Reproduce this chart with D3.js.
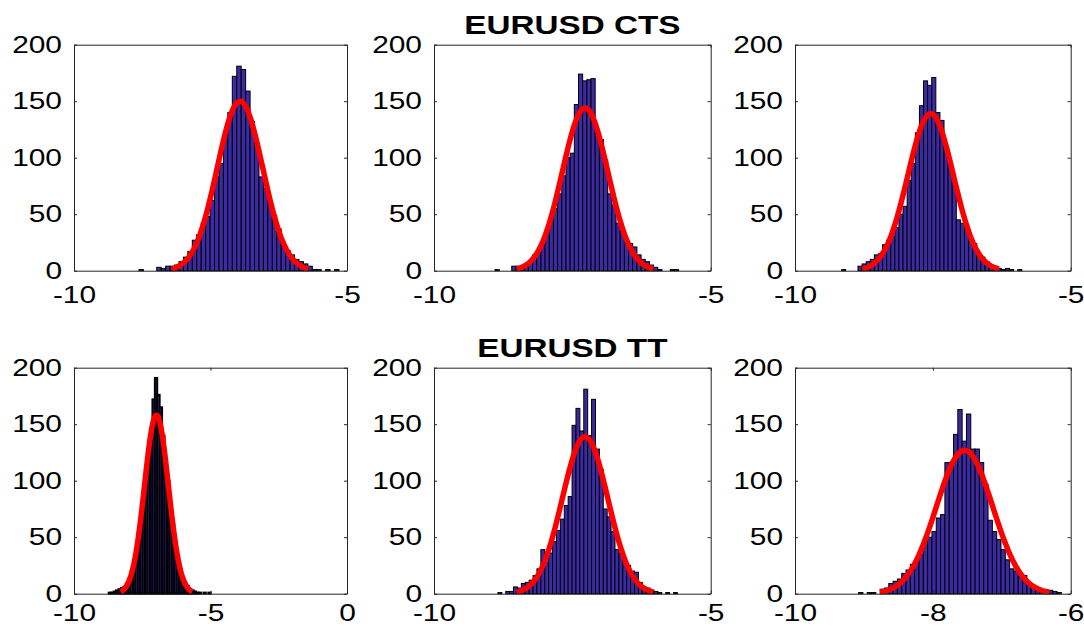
<!DOCTYPE html>
<html><head><meta charset="utf-8">
<script src="https://cdn.jsdelivr.net/npm/d3@7"></script>
<style>
html,body{margin:0;padding:0;background:#fff;}
svg{display:block;}
</style></head><body>
<svg id="chart" width="1084" height="626"></svg>
<script>
// ---------------- data ----------------
const titles = ["EURUSD CTS", "EURUSD TT"];
const yTicks = [0, 50, 100, 150, 200];

// Row 1 (CTS) histograms: counts per bin, first bin edge, bin width
const cts1Counts = [1,0,0,0,3,2,4,4,5,8,12,17,27,32,42,48,62,83,95,123,140,172,181,178,159,132,110,83,73,61,49,37,24,18,14,10,8,6,4,1,1,0,1,0,1];
const cts1Start = -8.81, cts1BinWidth = 0.0814;
const cts1Fit = {mu: -6.96, sigma: 0.417, peak: 150};
const cts1XTicks = [-10, -5];

const cts2Counts = [1,0,0,0,4,4,3,5,8,14,17,26,34,45,55,68,84,100,104,147,174,168,169,170,125,116,98,68,58,42,35,27,24,21,14,10,8,5,3,1,0,0,1,1];
const cts2Start = -8.897, cts2BinWidth = 0.0754;
const cts2Fit = {mu: -7.27, sigma: 0.412, peak: 144};
const cts2XTicks = [-10, -5];

const cts3Counts = [1,0,0,0,4,6,8,10,14,15,23,27,30,38,50,57,80,95,122,146,168,164,171,140,133,110,95,78,45,42,36,26,24,14,12,8,5,4,2,1,2,1,0,1];
const cts3Start = -9.155, cts3BinWidth = 0.0743;
const cts3Fit = {mu: -7.54, sigma: 0.414, peak: 139};
const cts3XTicks = [-10, -5];

// Row 2 (TT) histograms
const tt1Counts = [1,1,2,3,4,5,6,9,13,20,28,40,55,72,90,108,126,146,172,191,176,165,140,120,100,80,62,46,32,22,15,10,7,4,3,2,1,1,0,1,0,1];
const tt1Start = -8.73, tt1BinWidth = 0.089;
const tt1Fit = {mu: -6.98, sigma: 0.437, peak: 158};
const tt1XTicks = [-10, -5, 0];

const tt2Counts = [0,1,0,2,2,6,5,9,10,12,16,22,39,28,36,46,56,66,78,86,149,164,144,181,140,172,128,110,75,68,55,39,36,30,25,20,19,10,6,5,3,2,1,0,1,0,1];
const tt2Start = -8.915, tt2BinWidth = 0.0705;
const tt2Fit = {mu: -7.27, sigma: 0.411, peak: 139};
const tt2XTicks = [-10, -5];

const tt3Counts = [0,1,0,1,1,0,4,5,9,11,13,18,21,26,30,35,45,50,55,67,70,116,116,141,163,135,159,128,128,116,97,65,55,48,39,30,22,20,15,16,10,6,5,3,2,3,2,1];
const tt3Start = -9.14, tt3BinWidth = 0.0626;
const tt3Fit = {mu: -7.54, sigma: 0.409, peak: 127};
const tt3XTicks = [-10, -8, -6];

// ---------------- layout ----------------
const colLeft = [74, 434, 795];
const colRight = [347, 710.7, 1070.7];
const rowTop = [44.7, 367.7];
const rowBottom = [270.7, 593.7];
const xLabelPad = [16, 11];
const titleBaseline = [34, 357];
const titleX = (colLeft[1] + colRight[1]) / 2;

const barFill = "rgb(60,42,165)";
const fontFamily = "'Liberation Sans', Arial, Helvetica, sans-serif";
const stretch = 1.3;

const panels = [
  {row:0, col:0, counts:cts1Counts, start:cts1Start, bw:cts1BinWidth, fit:cts1Fit, xDomain:[-10,-5], xTicks:cts1XTicks, edge:1},
  {row:0, col:1, counts:cts2Counts, start:cts2Start, bw:cts2BinWidth, fit:cts2Fit, xDomain:[-10,-5], xTicks:cts2XTicks, edge:1},
  {row:0, col:2, counts:cts3Counts, start:cts3Start, bw:cts3BinWidth, fit:cts3Fit, xDomain:[-10,-5], xTicks:cts3XTicks, edge:1},
  {row:1, col:0, counts:tt1Counts, start:tt1Start, bw:tt1BinWidth, fit:tt1Fit, xDomain:[-10,0], xTicks:tt1XTicks, edge:1.9},
  {row:1, col:1, counts:tt2Counts, start:tt2Start, bw:tt2BinWidth, fit:tt2Fit, xDomain:[-10,-5], xTicks:tt2XTicks, edge:1},
  {row:1, col:2, counts:tt3Counts, start:tt3Start, bw:tt3BinWidth, fit:tt3Fit, xDomain:[-10,-6], xTicks:tt3XTicks, edge:1}
];

const svg = d3.select("#chart");
svg.append("rect").attr("width",1084).attr("height",626).attr("fill","#fff");

panels.forEach(p => {
  const g = svg.append("g");
  const x = d3.scaleLinear().domain(p.xDomain).range([colLeft[p.col], colRight[p.col]]);
  const y = d3.scaleLinear().domain([0, 200]).range([rowBottom[p.row], rowTop[p.row]]);

  const bins = p.counts.map((c, i) => ({c, x0: p.start + i * p.bw, x1: p.start + (i + 1) * p.bw})).filter(d => d.c > 0);
  g.append("g").selectAll("rect").data(bins).join("rect")
    .attr("x", d => x(d.x0))
    .attr("width", d => x(d.x1) - x(d.x0))
    .attr("y", d => y(d.c))
    .attr("height", d => y(0) - y(d.c))
    .attr("fill", barFill)
    .attr("stroke", "#000")
    .attr("stroke-width", p.edge);

  // fitted normal curve over mu ± 3 sigma
  const f = p.fit;
  const xs = d3.range(101).map(i => f.mu - 3 * f.sigma + i * 6 * f.sigma / 100);
  const line = d3.line().x(v => x(v)).y(v => y(f.peak * Math.exp(-0.5 * Math.pow((v - f.mu) / f.sigma, 2))));
  g.append("path").datum(xs).attr("d", line)
    .attr("fill", "none").attr("stroke", "#ff0000").attr("stroke-width", 5.5)
    .attr("stroke-linejoin", "round").attr("stroke-linecap", "butt");

  const axisColor = "#262626";
  const bottom = g.append("g").attr("transform", `translate(0,${rowBottom[p.row]})`)
    .call(d3.axisBottom(x).tickValues(p.xTicks).tickSize(-3).tickSizeOuter(0).tickPadding(xLabelPad[p.row]).tickFormat(d => String(d)));
  const top = g.append("g").attr("transform", `translate(0,${rowTop[p.row]})`)
    .call(d3.axisTop(x).tickValues(p.xTicks).tickSize(-3).tickSizeOuter(0).tickFormat(""));
  const left = g.append("g").attr("transform", `translate(${colLeft[p.col]},0)`)
    .call(d3.axisLeft(y).tickValues(yTicks).tickSize(-3).tickSizeOuter(0).tickPadding(12 / stretch).tickFormat(d => String(d)));
  const right = g.append("g").attr("transform", `translate(${colRight[p.col]},0)`)
    .call(d3.axisRight(y).tickValues(yTicks).tickSize(-3).tickSizeOuter(0).tickFormat(""));

  [bottom, top, left, right].forEach(a => {
    a.select(".domain").attr("stroke", axisColor).attr("stroke-width", 1);
    a.selectAll(".tick line").attr("stroke", axisColor).attr("stroke-width", 1);
    a.selectAll(".tick text")
      .attr("fill", "#000")
      .attr("font-family", fontFamily)
      .attr("font-size", 23)
      .attr("transform", `scale(${stretch},1)`);
  });
});

titles.forEach((t, r) => {
  svg.append("g").attr("transform", `translate(${titleX},${titleBaseline[r]})`)
    .append("text")
    .attr("text-anchor", "middle")
    .attr("font-family", fontFamily)
    .attr("font-weight", "bold")
    .attr("font-size", 25)
    .attr("fill", "#000")
    .attr("transform", "scale(1.33,1)")
    .text(t);
});
</script>
</body></html>
